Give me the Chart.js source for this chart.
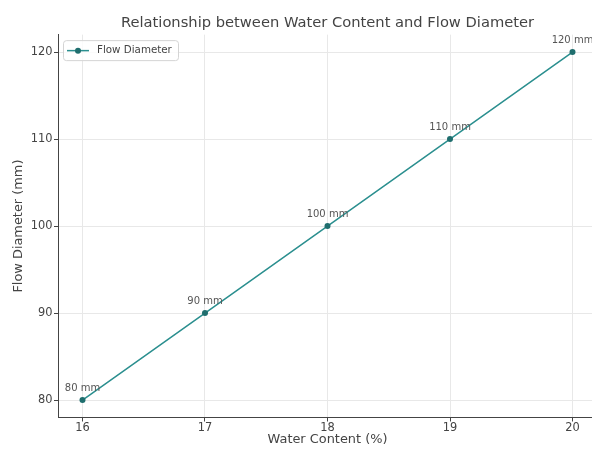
<!DOCTYPE html>
<html>
<head>
<meta charset="utf-8">
<script src="https://cdn.jsdelivr.net/npm/chart.js@4.4.1/dist/chart.umd.min.js"></script>
<style>
  html, body { margin: 0; padding: 0; background: #fff; overflow: hidden; }
  #wrap { width: 620px; height: 449px; }
</style>
</head>
<body>
<div id="wrap"><canvas id="c" width="620" height="449"></canvas></div>
<script>
const chartTitle = "Relationship between Water Content and Flow Diameter";
const xTitle = "Water Content (%)";
const yTitle = "Flow Diameter (mm)";
const seriesLabel = "Flow Diameter";
const waterContent = [16, 17, 18, 19, 20];
const flowDiameter = [80, 90, 100, 110, 120];
const xTickValues = [16, 17, 18, 19, 20];
const yTickValues = [80, 90, 100, 110, 120];
const unitSuffix = " mm";

const FONT = "'DejaVu Sans', sans-serif";
const LINE_COLOR = '#2b8f8f';
const POINT_COLOR = '#1f6e6e';

const pointLabels = {
  id: 'pointLabels',
  afterDatasetsDraw(chart) {
    const ctx = chart.ctx;
    const meta = chart.getDatasetMeta(0);
    ctx.save();
    ctx.font = '10px ' + FONT;
    ctx.fillStyle = '#555';
    ctx.textAlign = 'center';
    ctx.textBaseline = 'middle';
    meta.data.forEach((pt, i) => {
      ctx.fillText(flowDiameter[i] + unitSuffix, pt.x, pt.y - 11.5);
    });
    ctx.restore();
  }
};

const innerLegend = {
  id: 'innerLegend',
  afterDraw(chart) {
    const ctx = chart.ctx;
    const a = chart.chartArea;
    const x0 = a.left + 5, y0 = a.top + 5.5, w = 115, h = 20;
    ctx.save();
    ctx.fillStyle = 'rgba(255,255,255,0.8)';
    ctx.strokeStyle = '#d4d4d4';
    ctx.lineWidth = 1;
    ctx.beginPath();
    if (ctx.roundRect) ctx.roundRect(x0 + 0.5, y0 + 0.5, w, h, 3); else ctx.rect(x0 + 0.5, y0 + 0.5, w, h);
    ctx.fill();
    ctx.stroke();
    const cy = y0 + h / 2 + 0.5;
    ctx.strokeStyle = LINE_COLOR;
    ctx.lineWidth = 1.5;
    ctx.beginPath();
    ctx.moveTo(x0 + 4, cy);
    ctx.lineTo(x0 + 26, cy);
    ctx.stroke();
    ctx.fillStyle = POINT_COLOR;
    ctx.beginPath();
    ctx.arc(x0 + 15, cy, 3, 0, Math.PI * 2);
    ctx.fill();
    ctx.font = '10.3px ' + FONT;
    ctx.fillStyle = '#444';
    ctx.textAlign = 'left';
    ctx.textBaseline = 'middle';
    ctx.fillText(chart.data.datasets[0].label, x0 + 34, cy);
    ctx.restore();
  }
};

new Chart(document.getElementById('c'), {
  type: 'line',
  data: {
    datasets: [{
      label: seriesLabel,
      data: waterContent.map((x, i) => ({ x: x, y: flowDiameter[i] })),
      borderColor: LINE_COLOR,
      backgroundColor: POINT_COLOR,
      pointBackgroundColor: POINT_COLOR,
      pointBorderColor: POINT_COLOR,
      borderWidth: 1.5,
      pointRadius: 3,
      pointBorderWidth: 0,
      tension: 0,
      fill: false
    }]
  },
  options: {
    responsive: false,
    animation: false,
    devicePixelRatio: 1,
    layout: { padding: { left: 0, right: 23, top: 0, bottom: 0 } },
    plugins: {
      legend: { display: false },
      tooltip: { enabled: false },
      title: {
        display: true,
        text: chartTitle,
        fullSize: false,
        color: '#444',
        font: { family: FONT, size: 14.7, weight: 'normal' },
        padding: { top: 14.7, bottom: 2.3 }
      }
    },
    scales: {
      x: {
        type: 'linear',
        min: 15.8,
        max: 20.2,
        afterBuildTicks(scale) { scale.ticks = xTickValues.map(v => ({ value: v })); },
        afterFit(scale) { scale.height = 31.5; },
        ticks: {
          color: '#444',
          font: { family: FONT, size: 11.4, lineHeight: 1 },
          padding: 0.8,
          maxRotation: 0,
          callback: v => String(v)
        },
        grid: { color: '#e8e8e8', lineWidth: 1, tickLength: 4, tickColor: '#444', drawTicks: true },
        border: { display: true, color: '#444', width: 1 },
        title: {
          display: true,
          text: xTitle,
          color: '#444',
          font: { family: FONT, size: 12.9 },
          padding: { top: 0, bottom: 1.2 }
        }
      },
      y: {
        type: 'linear',
        min: 78,
        max: 122,
        afterBuildTicks(scale) { scale.ticks = yTickValues.map(v => ({ value: v })); },
        afterFit(scale) { scale.width = 58; },
        ticks: {
          color: '#444',
          font: { family: FONT, size: 11.4 },
          padding: 1.5,
          callback: v => String(v)
        },
        grid: { color: '#e8e8e8', lineWidth: 1, tickLength: 4, tickColor: '#444', drawTicks: true },
        border: { display: true, color: '#444', width: 1 },
        title: {
          display: true,
          text: yTitle,
          color: '#444',
          font: { family: FONT, size: 12.9 },
          padding: { top: 10.5, bottom: 0 }
        }
      }
    }
  },
  plugins: [pointLabels, innerLegend]
});
</script>
</body>
</html>
